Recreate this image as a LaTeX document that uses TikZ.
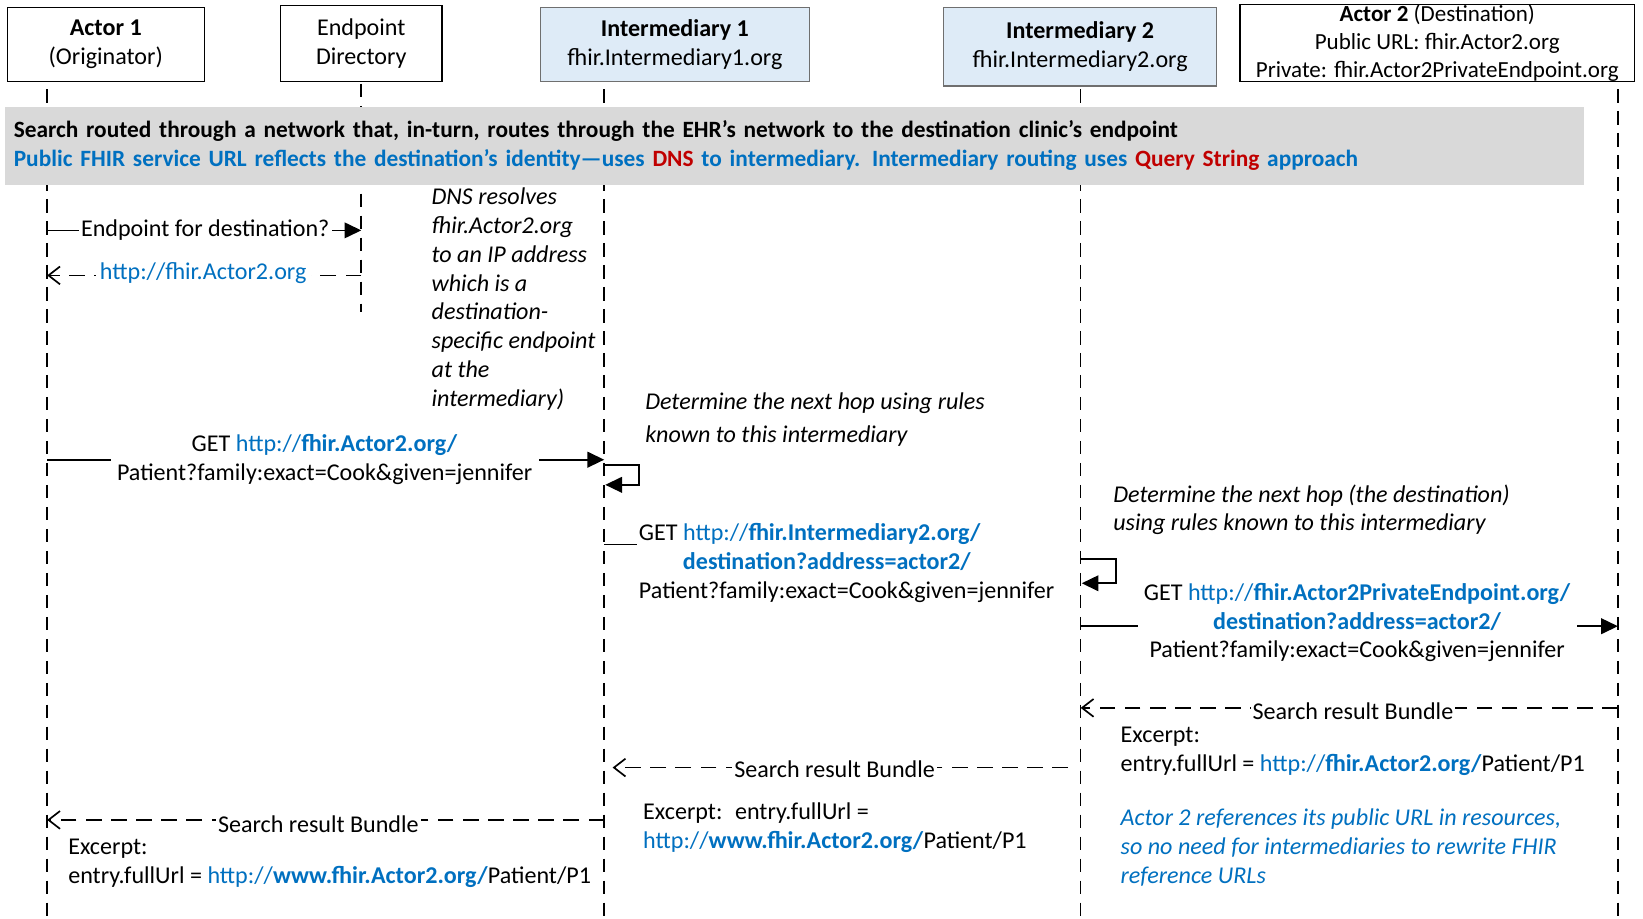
\documentclass[tikz,border=0pt]{standalone}
\usepackage{fontspec}
\setmainfont{Carlito}
\usetikzlibrary{arrows.meta}
\definecolor{fblue}{HTML}{0070C0}
\definecolor{fred}{HTML}{C00000}
\definecolor{boxblue}{HTML}{DEEBF7}
\definecolor{band}{HTML}{D9D9D9}
\definecolor{boxedge}{HTML}{6F6F6F}
\newcommand\lnk[2]{\textcolor{fblue}{#1\textbf{#2}}}
\begin{document}
\begin{tikzpicture}[x=1pt,y=-1pt,
  every node/.style={font=\fontsize{23}{27.5}\selectfont, inner sep=0pt},
  actorbox/.style={draw=black, line width=1.3pt, fill=white, align=center},
  interbox/.style={actorbox, draw=boxedge, fill=boxblue},
  life/.style={line width=1.5pt, dash pattern=on 13pt off 8pt},
  msg/.style={line width=1.6pt, -{Triangle[length=16pt,width=15pt]}},
  ret/.style={line width=1.6pt, dash pattern=on 15pt off 9pt, -{Straight Barb[length=11pt,width=17pt,line width=1.6pt]}},
  lbl/.style={fill=white, inner xsep=2pt, inner ysep=2pt},
  note/.style={anchor=north west, align=left, font=\fontsize{23}{27.5}\selectfont\itshape},
  txt/.style={anchor=north west, align=left}
]
\useasboundingbox (0,0) rectangle (1569,877);
\fill[white] (0,0) rectangle (1569,877);

% lifeline coordinates
\coordinate (l1t) at (45,85);   \coordinate (l1b) at (45,875);
\coordinate (l2t) at (345,80);  \coordinate (l2b) at (345,298);
\coordinate (l3t) at (577,85);  \coordinate (l3b) at (577,875);
\coordinate (l4t) at (1032,85); \coordinate (l4b) at (1032,875);
\coordinate (l5t) at (1545,85); \coordinate (l5b) at (1545,875);
\draw[life] (l1t) -- (l1b);
\draw[life] (l2t) -- (l2b);
\draw[life] (l3t) -- (l3b);
\draw[life] (l4t) -- (l4b);
\draw[life] (l5t) -- (l5b);

% header boxes
\node[actorbox, minimum width=188, minimum height=71] (a1) at (101,42.5) {\textbf{Actor 1}\\(Originator)};
\node[actorbox, minimum width=154, minimum height=73] (ed) at (345,41.5) {Endpoint\\Directory};
\node[interbox, minimum width=257, minimum height=71] (i1) at (644.5,42.5) {\textbf{Intermediary 1}\\fhir.Intermediary1.org};
\node[interbox, minimum width=261, minimum height=75] (i2) at (1031.5,44.5) {\textbf{Intermediary 2}\\fhir.Intermediary2.org};
\node[actorbox, minimum width=377, minimum height=74, font=\fontsize{22}{27}\selectfont] (a2) at (1372.5,41) {\textbf{Actor 2} (Destination)\\Public URL: fhir.Actor2.org\\Private: fhir.Actor2PrivateEndpoint.org};

% band
\node[fill=band, anchor=north west, minimum width=1507, minimum height=74, text width=1491, inner xsep=8pt, align=left, font=\fontsize{22.3}{27.5}\selectfont] (bnd) at (5,102)
 {\textbf{Search routed through a network that, in-turn, routes through the EHR’s network to the destination clinic’s endpoint}\\
  \textcolor{fblue}{\textbf{Public FHIR service URL reflects the destination's identity—uses \textcolor{fred}{DNS} to intermediary. Intermediary routing uses \textcolor{fred}{Query String} approach}}};

% message 1
\coordinate (m1s) at (45,220); \coordinate (m1e) at (345,220);
\draw[msg] (m1s) -- (m1e);
\node[lbl] (m1l) at (196,220) {Endpoint for destination?};
% message 2
\coordinate (m2s) at (345,263); \coordinate (m2e) at (45,263);
\draw[ret] (m2s) -- (m2e);
\node[lbl, inner xsep=4pt, text=fblue] (m2l) at (194,261) {http://fhir.Actor2.org};

% DNS note
\node[note] (n1) at (412,176) {\strut DNS resolves\\fhir.Actor2.org\\to an IP address\\which is a\\destination-\\specific endpoint\\at the\\intermediary)};

% message 3
\coordinate (m3s) at (45,439); \coordinate (m3e) at (577,439);
\draw[msg] (m3s) -- (m3e);
\node[lbl, align=center, inner xsep=6pt] (m3l) at (310,439) {GET \lnk{http://}{fhir.Actor2.org/}\\Patient?family:exact=Cook\&given=jennifer};

% self loop 1
\coordinate (s1a) at (577,444); \coordinate (s1b) at (610,444);
\coordinate (s1c) at (610,463); \coordinate (s1d) at (578,463);
\draw[msg] (s1a) -- (s1b) -- (s1c) -- (s1d);
\node[note] (n2) at (616,372) {\strut Determine the next hop using rules\\[3.5pt]known to this intermediary};

% message 4
\coordinate (m4s) at (577,520); \coordinate (m4e) at (608,520);
\draw[line width=1.6pt] (m4s) -- (m4e);
\node[txt] (m4l) at (610,497) {\strut GET \lnk{http://}{fhir.Intermediary2.org/}\\\hspace*{42pt}\textcolor{fblue}{\textbf{destination?address=actor2/}}\\Patient?family:exact=Cook\&given=jennifer};

% self loop 2
\coordinate (s2a) at (1032,534); \coordinate (s2b) at (1066,534);
\coordinate (s2c) at (1066,557); \coordinate (s2d) at (1033,557);
\draw[msg] (s2a) -- (s2b) -- (s2c) -- (s2d);
\node[note] (n3) at (1063,460) {\strut Determine the next hop (the destination)\\using rules known to this intermediary};

% message 5
\coordinate (m5s) at (1032,598); \coordinate (m5e) at (1545,598);
\draw[msg] (m5s) -- (m5e);
\node[lbl, align=center, inner xsep=6pt] (m5l) at (1296,594.5) {GET \lnk{http://}{fhir.Actor2PrivateEndpoint.org/}\\\textcolor{fblue}{\textbf{destination?address=actor2/}}\\Patient?family:exact=Cook\&given=jennifer};

% message 6 (return)
\coordinate (m6s) at (1545,676); \coordinate (m6e) at (1032,676);
\draw[ret] (m6s) -- (m6e);
\node[lbl] (m6l) at (1292,679) {Search result Bundle};
\node[txt] (x6) at (1070,690) {\strut Excerpt:\\entry.fullUrl = \lnk{http://}{fhir.Actor2.org/}Patient/P1};
\node[note, text=fblue] (n4) at (1070,769) {\strut Actor 2 references its public URL in resources,\\so no need for intermediaries to rewrite FHIR\\reference URLs};

% message 7 (return)
\coordinate (m7s) at (1020,733); \coordinate (m7e) at (585,733);
\draw[ret] (m7s) -- (m7e);
\node[lbl] (m7l) at (797,735) {Search result Bundle};
\node[txt] (x7) at (614,763) {\strut Excerpt:\hspace{12pt}entry.fullUrl =\\\lnk{http://}{www.fhir.Actor2.org/}Patient/P1};

% message 8 (return)
\coordinate (m8s) at (577,783); \coordinate (m8e) at (45,783);
\draw[ret] (m8s) -- (m8e);
\node[lbl] (m8l) at (304,787) {Search result Bundle};
\node[txt] (x8) at (65,797) {\strut Excerpt:\\entry.fullUrl = \lnk{http://}{www.fhir.Actor2.org/}Patient/P1};
\end{tikzpicture}
\end{document}
